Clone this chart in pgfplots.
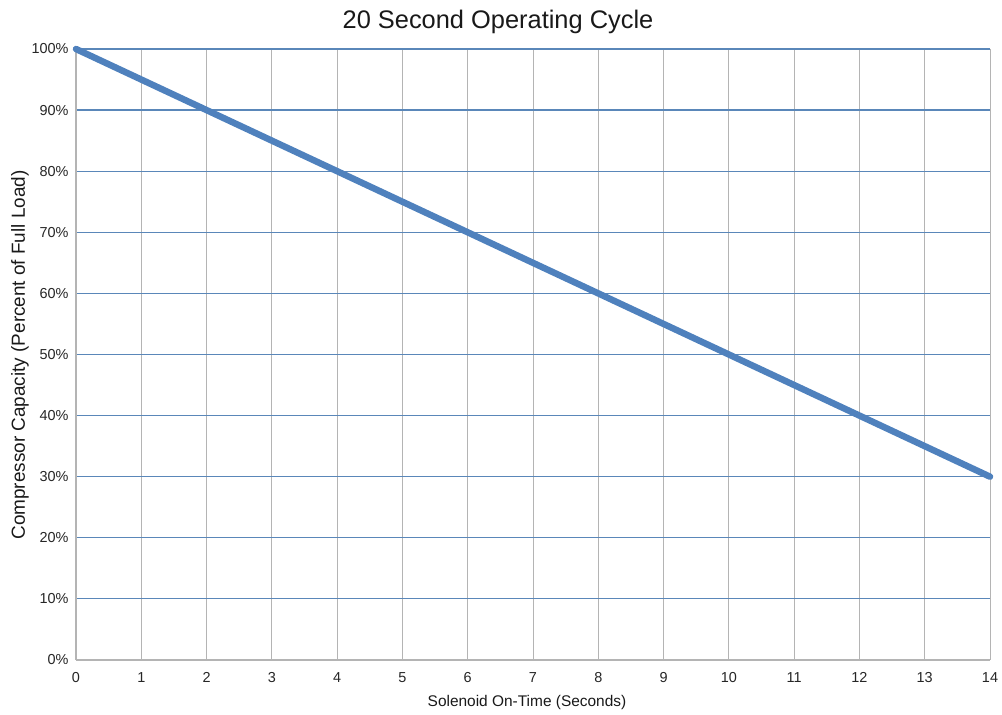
\documentclass[border=0pt]{standalone}
\usepackage{pgfplots}
\pgfplotsset{compat=1.18}
\usepackage{fontspec}
\setmainfont{Liberation Sans}
\definecolor{lineblue}{HTML}{4F81BD}
\definecolor{hgrid}{HTML}{5A87B9}
\definecolor{vgrid}{HTML}{B4B4B4}
\begin{document}
\begin{tikzpicture}
\begin{axis}[
  at={(0,0)}, anchor=south west,
  scale only axis,
  width=914bp, height=611bp,
  xmin=0, xmax=14, ymin=0, ymax=100,
  xtick={0,1,...,14},
  ytick={10,20,...,100},
  yticklabel={\pgfmathprintnumber{\tick}\%},
  extra y ticks={0},
  extra y tick labels={0\%},
  extra y tick style={grid=none},
  /pgf/number format/assume math mode=true,
  tick label style={font=\fontsize{14.5}{16}\selectfont, text=black!85},
  xticklabel style={yshift=-9bp},
  yticklabel style={xshift=-4bp},
  major tick length=0pt,
  axis x line*=bottom, axis y line*=left,
  axis line style={draw=vgrid, line width=1.2bp, -},
  xmajorgrids, ymajorgrids,
  x grid style={draw=vgrid, line width=1bp},
  y grid style={draw=hgrid, line width=1.2bp},
  clip=false,
]
\addplot[lineblue, line width=6.5bp, line cap=round] coordinates {(0,100) (2,90) (4,80) (6,70) (8,60) (10,50) (12,40) (14,30)};
\end{axis}
\node[font=\fontsize{25.5}{28}\selectfont, text=black!90] at (422bp,638bp) {20 Second Operating Cycle};
\node[font=\fontsize{19}{22}\selectfont, rotate=90, text=black!90] at (-56bp,305bp) {Compressor Capacity (Percent of Full Load)};
\node[font=\fontsize{15.5}{18}\selectfont, text=black!90] at (451bp,-43bp) {Solenoid On-Time (Seconds)};
\pgfresetboundingbox
\path[use as bounding box] (-76bp,-55bp) rectangle (926bp,660bp);
\end{tikzpicture}
\end{document}
